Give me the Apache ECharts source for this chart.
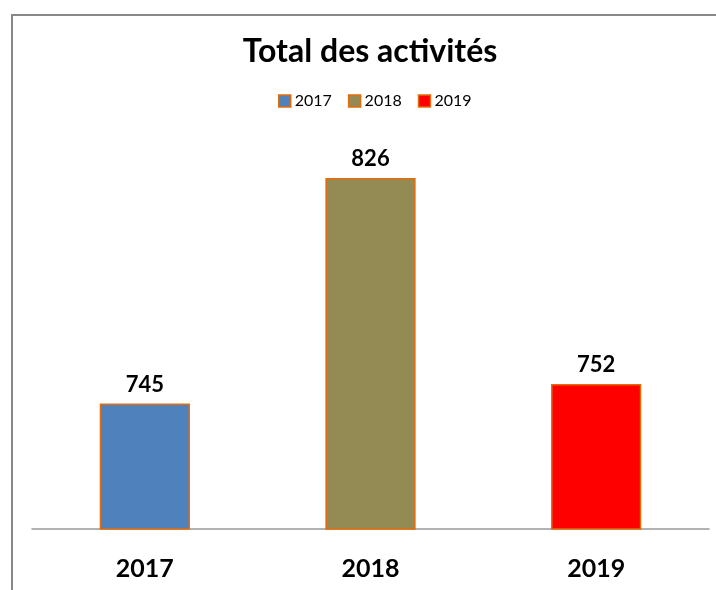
<!DOCTYPE html>
<html>
<head>
<meta charset="utf-8">
<script src="https://cdn.jsdelivr.net/npm/echarts@6/dist/echarts.min.js"></script>
<style>
  html, body { margin: 0; padding: 0; background: #fff; }
  #main { width: 716px; height: 590px; }
</style>
</head>
<body>
<div id="main"></div>
<script>
// années et valeurs
var years = ['2017', '2018', '2019'];
var totals = [745, 826, 752];
var colors = ['#4F81BD', '#948A54', '#FF0000'];

var font = 'Lato, "Open Sans", sans-serif';

var series = years.map(function (y, i) {
  var data = years.map(function (_, j) { return j === i ? totals[i] : '-'; });
  return {
    name: y,
    type: 'bar',
    stack: 'tot',
    barWidth: '40%',
    data: data,
    itemStyle: { color: colors[i], borderColor: '#E46C0A', borderWidth: 1.5 },
    label: {
      show: true,
      position: 'top',
      distance: 8,
      color: '#000',
      fontFamily: font,
      fontWeight: 'bold',
      fontSize: 22
    }
  };
});

var option = {
  animation: false,
  title: {
    text: 'Total des activités',
    left: 370,
    textAlign: 'center',
    top: 36,
    padding: 0,
    textStyle: { fontFamily: font, fontWeight: 'bold', fontSize: 32, color: '#000' }
  },
  legend: {
    data: years,
    top: 93,
    left: 278,
    padding: 0,
    itemWidth: 12,
    itemHeight: 12,
    itemGap: 16,
    icon: 'rect',
    itemStyle: { borderColor: '#E46C0A', borderWidth: 1.5 },
    textStyle: { fontFamily: font, fontSize: 16, color: '#000', padding: [0, 0, 0, -1] }
  },
  graphic: [{
    type: 'rect',
    shape: { x: 12, y: 15, width: 800, height: 700 },
    style: { fill: 'none', stroke: '#888', lineWidth: 2 },
    silent: true
  }],
  grid: { left: 32, right: 7, top: 111, bottom: 61 },
  xAxis: {
    type: 'category',
    data: years,
    axisTick: { show: false },
    axisLine: { lineStyle: { color: '#999', width: 1.5 } },
    axisLabel: { margin: 27, color: '#000', fontFamily: font, fontWeight: 'bold', fontSize: 25 }
  },
  yAxis: {
    type: 'value',
    min: 700,
    max: 850,
    show: false,
    splitLine: { show: false }
  },
  series: series
};

echarts.init(document.getElementById('main')).setOption(option);
</script>
</body>
</html>
